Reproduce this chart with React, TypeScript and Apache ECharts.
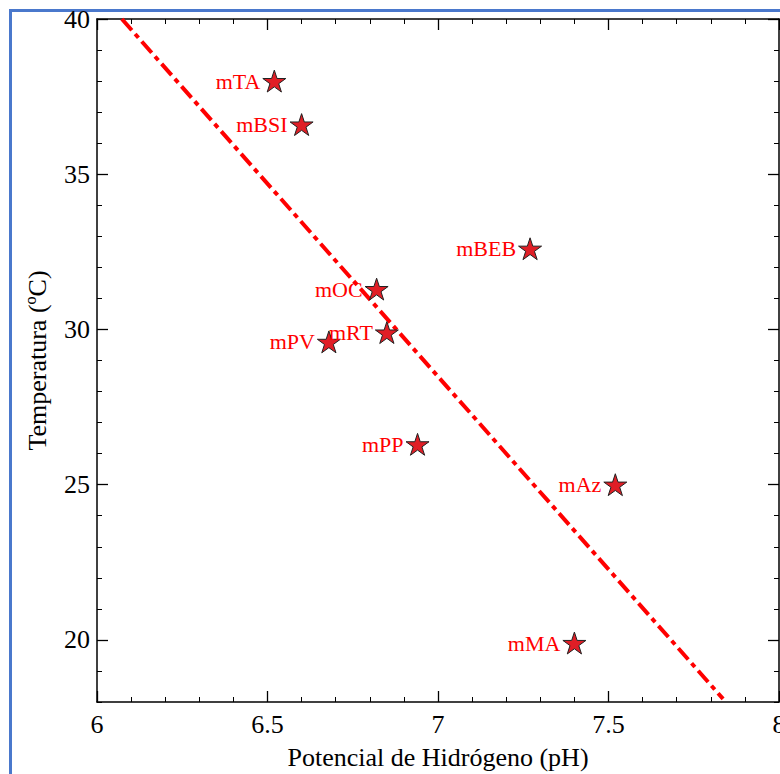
import React, { useEffect, useRef } from "react";
import * as echarts from "echarts";

const sampleNames = ["mTA", "mBSI", "mBEB", "mOC", "mRT", "mPV", "mPP", "mAz", "mMA"];
const phValues = [6.52, 6.6, 7.27, 6.82, 6.85, 6.68, 6.94, 7.52, 7.4];
const tempValues = [38.0, 36.6, 32.6, 31.3, 29.9, 29.6, 26.3, 25.0, 19.9];
// fitted trend line end points (pH, °C)
const fitX = [6.073, 7.836];
const fitY = [40.0, 18.1];

const xTickLabels = ["6", "6.5", "7", "7.5", "8"];
const yMajorTicks = [20, 25, 30, 35, 40];
const yTickLabels = ["20", "25", "30", "35", "40"];

const STAR =
  "path://M50 0 L61.23 34.55 L97.55 34.55 L68.17 55.9 L79.39 90.45 L50 69.1 L20.61 90.45 L31.83 55.9 L2.45 34.55 L38.77 34.55 Z";

const SERIF = '"Liberation Serif", "Times New Roman", serif';

export default function App() {
  const ref = useRef<HTMLDivElement>(null);

  useEffect(() => {
    if (!ref.current) return;
    const chart = echarts.init(ref.current, undefined, { renderer: "svg" });

    const axisLine = { show: true, lineStyle: { color: "#000", width: 1.5 } };
    const xBase = {
      type: "value" as const,
      min: 6,
      max: 8,
      interval: 0.5,
      splitLine: { show: false },
      axisLine,
      axisTick: { show: true, inside: true, length: 11, lineStyle: { color: "#000", width: 1.3 } },
      minorTick: { show: true, splitNumber: 5, length: 5, lineStyle: { color: "#000", width: 1 } },
    };
    const yMajor = {
      type: "value" as const,
      min: 18,
      max: 40,
      splitLine: { show: false },
      axisLine,
      axisTick: {
        show: true,
        inside: true,
        length: 11,
        customValues: yMajorTicks,
        lineStyle: { color: "#000", width: 1.3 },
      },
    };
    const yMinor = {
      type: "value" as const,
      min: 18,
      max: 40,
      interval: 1,
      splitLine: { show: false },
      axisLine: { show: false },
      axisLabel: { show: false },
      axisTick: { show: true, inside: true, length: 5, lineStyle: { color: "#000", width: 1 } },
    };

    const labelMap: Record<string, string> = {};
    yMajorTicks.forEach((v, i) => (labelMap[String(v)] = yTickLabels[i]));

    chart.setOption({
      animation: false,
      backgroundColor: "#fff",
      textStyle: { fontFamily: SERIF },
      graphic: [
        {
          type: "rect",
          z: -10,
          silent: true,
          shape: { x: 10.5, y: 10.5, width: 900, height: 900 },
          style: { fill: "none", stroke: "#4a78cc", lineWidth: 3 },
        },
      ],
      grid: {
        left: 97,
        right: 1,
        top: 19,
        bottom: 72,
        containLabel: false,
        outerBoundsMode: "none",
      },
      xAxis: [
        {
          ...xBase,
          position: "bottom",
          name: "Potencial de Hidrógeno (pH)",
          nameLocation: "middle",
          nameGap: 42,
          nameTextStyle: { fontSize: 26, color: "#000", fontFamily: SERIF },
          axisLabel: {
            show: true,
            margin: 9,
            fontSize: 26,
            color: "#000",
            fontFamily: SERIF,
            formatter: (v: number) => xTickLabels[Math.round((v - 6) / 0.5)] ?? "",
          },
        },
        { ...xBase, position: "top", axisLabel: { show: false } },
      ],
      yAxis: [
        {
          ...yMajor,
          position: "left",
          name: "Temperatura (ºC)",
          nameLocation: "middle",
          nameGap: 47,
          nameRotate: 90,
          nameTextStyle: { fontSize: 26, color: "#000", fontFamily: SERIF },
          axisLabel: {
            show: true,
            margin: 7,
            fontSize: 26,
            color: "#000",
            fontFamily: SERIF,
            customValues: yMajorTicks,
            formatter: (v: number) => labelMap[String(v)] ?? "",
          },
        },
        { ...yMajor, position: "right", axisLabel: { show: false } },
        { ...yMinor, position: "left" },
        { ...yMinor, position: "right" },
      ],
      series: [
        {
          type: "line",
          xAxisIndex: 0,
          yAxisIndex: 0,
          data: fitX.map((x, i) => [x, fitY[i]]),
          symbol: "none",
          silent: true,
          lineStyle: { color: "#ff0000", width: 4, type: [15, 5, 5, 5] },
          z: 2,
        },
        {
          type: "scatter",
          xAxisIndex: 0,
          yAxisIndex: 0,
          data: sampleNames.map((n, i) => ({ name: n, value: [phValues[i], tempValues[i]] })),
          symbol: STAR,
          symbolSize: 23,
          symbolKeepAspect: true,
          itemStyle: { color: "#e01e26", borderColor: "#222", borderWidth: 1, opacity: 1 },
          label: {
            show: true,
            position: "left",
            distance: 2,
            formatter: "{b}",
            color: "#ff0000",
            fontSize: 22,
            fontFamily: SERIF,
          },
          z: 3,
        },
      ],
    });

    return () => chart.dispose();
  }, []);

  return (
    <div
      ref={ref}
      style={{ position: "absolute", left: 0, top: 0, width: 780, height: 774 }}
    />
  );
}
